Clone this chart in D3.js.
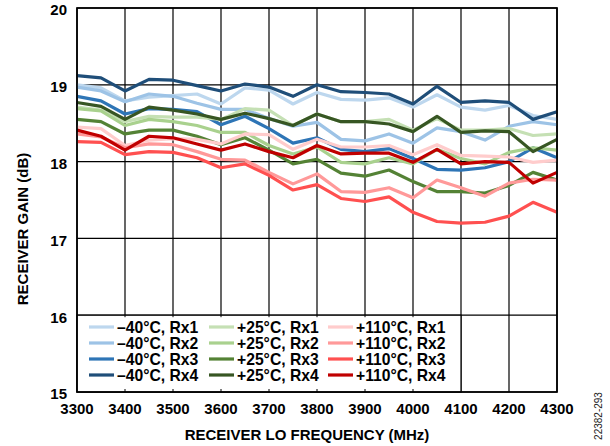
<!DOCTYPE html>
<html><head><meta charset="utf-8">
<script src="https://cdn.jsdelivr.net/npm/d3@7"></script>
<style>body{margin:0;background:#fff}svg{display:block}text{font-family:"Liberation Sans",Arial,sans-serif}</style>
</head><body><svg id="c" width="610" height="446"></svg>
<script>
const freqs = [3300,3350,3400,3450,3500,3550,3600,3650,3700,3750,3800,3850,3900,3950,4000,4050,4100,4150,4200,4250,4300];
const xTicks = [3300,3400,3500,3600,3700,3800,3900,4000,4100,4200,4300];
const yTicks = [15,16,17,18,19,20];

const m40_rx1 = [19.00,18.96,18.79,18.84,18.86,18.88,18.75,18.96,18.93,18.75,18.90,18.81,18.80,18.83,18.71,18.87,18.71,18.67,18.73,18.60,18.55];
const m40_rx2 = [18.97,18.92,18.78,18.88,18.85,18.76,18.68,18.68,18.56,18.46,18.51,18.29,18.27,18.36,18.24,18.44,18.39,18.28,18.46,18.52,18.48];
const m40_rx3 = [18.85,18.79,18.62,18.69,18.68,18.65,18.48,18.59,18.43,18.24,18.31,18.16,18.13,18.17,18.04,17.90,17.89,17.92,18.00,18.18,18.05];
const m40_rx4 = [19.12,19.09,18.92,19.07,19.06,18.99,18.92,19.01,18.97,18.85,19.00,18.91,18.90,18.88,18.75,18.98,18.77,18.79,18.77,18.55,18.65];
const p25_rx1 = [18.71,18.67,18.52,18.59,18.58,18.58,18.55,18.69,18.67,18.47,18.62,18.52,18.52,18.55,18.41,18.56,18.41,18.41,18.43,18.34,18.36];
const p25_rx2 = [18.69,18.66,18.47,18.55,18.52,18.47,18.38,18.38,18.21,18.10,18.19,17.99,17.97,18.05,17.97,18.16,18.04,17.97,18.12,18.18,18.15];
const p25_rx3 = [18.55,18.52,18.36,18.41,18.41,18.33,18.22,18.31,18.15,17.97,18.03,17.85,17.81,17.89,17.74,17.61,17.61,17.59,17.69,17.86,17.76];
const p25_rx4 = [18.77,18.72,18.55,18.71,18.67,18.62,18.55,18.63,18.56,18.47,18.62,18.52,18.52,18.49,18.39,18.59,18.38,18.40,18.39,18.13,18.29];
const p110_rx1 = [18.45,18.43,18.21,18.28,18.30,18.29,18.23,18.36,18.35,18.16,18.29,18.19,18.19,18.21,18.09,18.22,18.08,18.07,18.06,17.99,18.02];
const p110_rx2 = [18.36,18.32,18.18,18.23,18.22,18.13,18.03,18.02,17.86,17.71,17.84,17.61,17.60,17.66,17.53,17.76,17.66,17.55,17.72,17.77,17.76];
const p110_rx3 = [18.26,18.25,18.09,18.13,18.12,18.05,17.92,17.97,17.82,17.63,17.70,17.52,17.48,17.54,17.34,17.22,17.20,17.21,17.29,17.47,17.34];
const p110_rx4 = [18.41,18.33,18.15,18.33,18.31,18.23,18.15,18.23,18.13,18.05,18.21,18.10,18.11,18.11,17.99,18.16,17.97,18.00,17.99,17.72,17.86];

const seriesNames = ["\u201340\u00B0C, Rx1","\u201340\u00B0C, Rx2","\u201340\u00B0C, Rx3","\u201340\u00B0C, Rx4",
  "+25\u00B0C, Rx1","+25\u00B0C, Rx2","+25\u00B0C, Rx3","+25\u00B0C, Rx4",
  "+110\u00B0C, Rx1","+110\u00B0C, Rx2","+110\u00B0C, Rx3","+110\u00B0C, Rx4"];
const seriesValues = [m40_rx1,m40_rx2,m40_rx3,m40_rx4,p25_rx1,p25_rx2,p25_rx3,p25_rx4,p110_rx1,p110_rx2,p110_rx3,p110_rx4];
const seriesColors = ["#bdd7ee","#9dc3e6","#2e75b6","#1f4e79","#c5e0b4","#a9d18e","#548235","#375623","#ffcccc","#ff9999","#ff5050","#c00000"];

const svg = d3.select("#c");
const L=77, R=557, T=8, B=392;
const x = d3.scaleLinear().domain([3300,4300]).range([L,R]);
const y = d3.scaleLinear().domain([15,20]).range([B,T]);

// grid
const g = svg.append("g");
g.selectAll(".hg").data(yTicks).join("line")
  .attr("x1",L).attr("x2",R).attr("y1",d=>y(d)).attr("y2",d=>y(d))
  .attr("stroke","#000").attr("stroke-width",1.2);
g.selectAll(".vg").data(xTicks).join("line")
  .attr("x1",d=>x(d)).attr("x2",d=>x(d)).attr("y1",T).attr("y2",B)
  .attr("stroke","#000").attr("stroke-width",1.2);

// lines
const line = d3.line().x((d,i)=>x(freqs[i])).y(d=>y(d));
svg.append("g").selectAll("path").data(seriesValues).join("path")
  .attr("d",d=>line(d)).attr("fill","none")
  .attr("stroke",(d,i)=>seriesColors[i]).attr("stroke-width",3.2)
  .attr("stroke-linejoin","round");

// legend box
const lgRight = x(4100), lgTop = y(16);
svg.append("rect").attr("x",L).attr("y",lgTop).attr("width",lgRight-L).attr("height",B-lgTop)
  .attr("fill","#fff").attr("stroke","#000").attr("stroke-width",1.2);
const smallTicks = xTicks.filter(d=>d>3300 && d<4100);
svg.append("g").selectAll("line").data(smallTicks).join("line")
  .attr("x1",d=>x(d)).attr("x2",d=>x(d)).attr("y1",B-3).attr("y2",B).attr("stroke","#000").attr("stroke-width",1);
svg.append("g").selectAll("line").data(smallTicks).join("line")
  .attr("x1",d=>x(d)).attr("x2",d=>x(d)).attr("y1",lgTop).attr("y2",lgTop+2).attr("stroke","#000").attr("stroke-width",1);

const colX = [89,209,328];
const rowY = [327,343,359,375];
const lg = svg.append("g");
seriesNames.forEach((name,i)=>{
  const c = Math.floor(i/4), r = i%4;
  lg.append("line").attr("x1",colX[c]).attr("x2",colX[c]+25).attr("y1",rowY[r]).attr("y2",rowY[r])
    .attr("stroke",seriesColors[i]).attr("stroke-width",3.2);
  lg.append("text").attr("x",colX[c]+28).attr("y",rowY[r]).attr("dy","0.36em")
    .attr("font-size",15.7).attr("font-weight","bold").attr("fill","#000").text(name);
});

// frame
svg.append("rect").attr("x",L).attr("y",T).attr("width",R-L).attr("height",B-T)
  .attr("fill","none").attr("stroke","#000").attr("stroke-width",1.7);

// axes labels
svg.append("g").selectAll("text").data(yTicks).join("text")
  .attr("x",L-10).attr("y",d=>y(d)+2).attr("dy","0.36em").attr("text-anchor","end")
  .attr("font-size",15).attr("font-weight","bold").text(d=>d);
svg.append("g").selectAll("text").data(xTicks).join("text")
  .attr("x",d=>x(d)).attr("y",414).attr("text-anchor","middle")
  .attr("font-size",15).attr("font-weight","bold").text(d=>d);

svg.append("text").attr("transform","translate(28,229) rotate(-90)").attr("text-anchor","middle")
  .attr("font-size",15).attr("font-weight","bold").text("RECEIVER GAIN (dB)");
svg.append("text").attr("x",307).attr("y",440).attr("text-anchor","middle")
  .attr("font-size",15).attr("font-weight","bold").text("RECEIVER LO FREQUENCY (MHz)");
svg.append("text").attr("transform","translate(602,416) rotate(-90)").attr("text-anchor","middle")
  .attr("font-size",10).attr("fill","#222").text("22382-293");
</script></body></html>
